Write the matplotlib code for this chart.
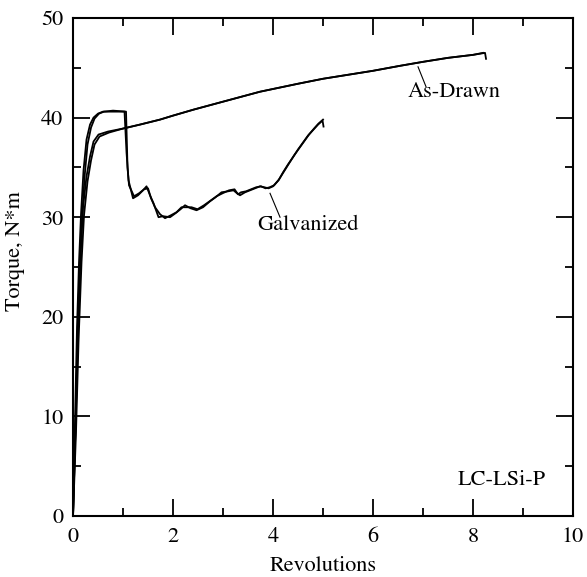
import matplotlib
matplotlib.use("Agg")
import matplotlib.pyplot as plt

plt.rcParams["font.family"] = ["STIXGeneral", "DejaVu Serif"]
plt.rcParams["mathtext.fontset"] = "stix"
plt.rcParams["font.size"] = 16

# Galvanized, two specimens
galv_a_x = [0, 0.04, 0.08, 0.12, 0.16, 0.21, 0.27, 0.34, 0.41, 0.50, 0.60, 0.80, 1.03,
            1.07, 1.11, 1.20, 1.30, 1.40, 1.47, 1.54, 1.61, 1.71, 1.80, 1.94, 2.05, 2.15,
            2.24, 2.35, 2.47, 2.60, 2.74, 2.85, 2.97, 3.10, 3.21, 3.28, 3.34, 3.44, 3.54,
            3.64, 3.74, 3.83, 3.91, 4.00, 4.11, 4.20, 4.30, 4.41, 4.50, 4.60, 4.70, 4.81,
            4.90, 4.99, 5.01]
galv_a_y = [0, 9.5, 19.0, 25.5, 30.3, 34.7, 37.8, 39.3, 40.0, 40.4, 40.6, 40.6, 40.6,
            36.5, 33.7, 31.9, 32.2, 32.7, 33.1, 32.2, 31.4, 30.0, 30.1, 30.0, 30.4, 30.8,
            31.2, 30.9, 30.7, 31.0, 31.6, 32.0, 32.5, 32.6, 32.7, 32.4, 32.2, 32.5, 32.7,
            32.9, 33.1, 33.0, 32.9, 33.1, 33.7, 34.5, 35.3, 36.1, 36.8, 37.5, 38.2, 38.8,
            39.3, 39.7, 39.1]
galv_b_x = [0, 0.05, 0.09, 0.13, 0.18, 0.23, 0.29, 0.36, 0.43, 0.52, 0.62, 0.80, 1.06,
            1.09, 1.12, 1.22, 1.32, 1.42, 1.50, 1.56, 1.64, 1.74, 1.84, 1.96, 2.07, 2.17,
            2.26, 2.37, 2.49, 2.62, 2.76, 2.87, 2.99, 3.12, 3.23, 3.30, 3.36, 3.46, 3.56,
            3.66, 3.76, 3.85, 3.93, 4.02, 4.12, 4.22, 4.32, 4.42, 4.52, 4.62, 4.72, 4.82,
            4.91, 5.00]
galv_b_y = [0, 9.0, 18.0, 24.5, 29.8, 34.0, 37.3, 39.0, 39.9, 40.4, 40.6, 40.7, 40.6,
            35.0, 33.2, 32.1, 32.4, 32.8, 32.9, 31.9, 31.0, 30.3, 29.9, 30.2, 30.5, 31.0,
            31.0, 31.0, 30.8, 31.2, 31.7, 32.1, 32.4, 32.7, 32.8, 32.3, 32.5, 32.6, 32.8,
            33.0, 33.1, 32.9, 33.0, 33.2, 33.8, 34.6, 35.4, 36.2, 36.9, 37.6, 38.3, 38.9,
            39.4, 39.8]

# As-Drawn, two specimens
drawn_a_x = [0, 0.05, 0.10, 0.15, 0.20, 0.27, 0.34, 0.41, 0.51, 0.70, 1.00, 1.34, 1.74,
             2.00, 2.41, 3.00, 3.74, 4.50, 5.00, 5.50, 6.00, 6.54, 7.00, 7.50, 8.00,
             8.24, 8.26]
drawn_a_y = [0, 9.0, 18.5, 26.0, 31.0, 34.1, 36.1, 37.6, 38.3, 38.6, 38.9, 39.3, 39.8,
             40.2, 40.8, 41.6, 42.6, 43.4, 43.9, 44.3, 44.7, 45.2, 45.6, 46.0, 46.3,
             46.5, 45.9]
drawn_b_x = [0, 0.06, 0.11, 0.17, 0.22, 0.29, 0.36, 0.43, 0.53, 0.72, 1.00, 1.34, 1.74,
             2.00, 2.41, 3.00, 3.74, 4.50, 5.00, 5.50, 6.00, 6.54, 7.00, 7.50, 8.00,
             8.20]
drawn_b_y = [0, 8.5, 17.5, 25.5, 30.2, 33.6, 35.7, 37.3, 38.1, 38.5, 38.9, 39.3, 39.8,
             40.2, 40.8, 41.6, 42.6, 43.4, 43.9, 44.3, 44.7, 45.2, 45.6, 46.0, 46.3,
             46.5]

# label leader lines (curve -> text)
drawn_leader_x = [6.9, 7.06]
drawn_leader_y = [45.1, 43.1]
galv_leader_x = [3.94, 4.14]
galv_leader_y = [32.4, 30.0]

fig = plt.figure(figsize=(5.87, 5.77), dpi=100)
ax = fig.add_axes([0.1244, 0.1057, 0.8518, 0.8631])

for xs, ys in [(galv_a_x, galv_a_y), (galv_b_x, galv_b_y),
               (drawn_a_x, drawn_a_y), (drawn_b_x, drawn_b_y)]:
    ax.plot(xs, ys, color="black", lw=1.3)

ax.plot(drawn_leader_x, drawn_leader_y, color="black", lw=0.8)
ax.plot(galv_leader_x, galv_leader_y, color="black", lw=0.8)
ax.text(7.62, 42.6, "As-Drawn", ha="center", va="center")
ax.text(4.70, 29.2, "Galvanized", ha="center", va="center")
ax.text(8.58, 3.6, "LC-LSi-P", ha="center", va="center")

ax.set_xlim(0, 10)
ax.set_ylim(0, 50)
ax.set_xticks(range(0, 11, 2))
ax.set_xticks(range(0, 11, 1), minor=True)
ax.set_yticks(range(0, 51, 10))
ax.set_yticks(range(0, 51, 5), minor=True)
ax.tick_params(which="both", direction="in", top=True, right=True, width=1.3)
ax.tick_params(which="major", length=12)
ax.tick_params(which="minor", length=6)
ax.tick_params(axis="x", which="major", pad=8)
ax.tick_params(axis="y", which="major", pad=7)
for s in ax.spines.values():
    s.set_linewidth(1.5)

ax.set_xlabel("Revolutions")
ax.set_ylabel("Torque, N*m")
ax.xaxis.set_label_coords(0.5, -0.08)
ax.yaxis.set_label_coords(-0.096, 0.532)

fig.savefig("out.png", dpi=100)
